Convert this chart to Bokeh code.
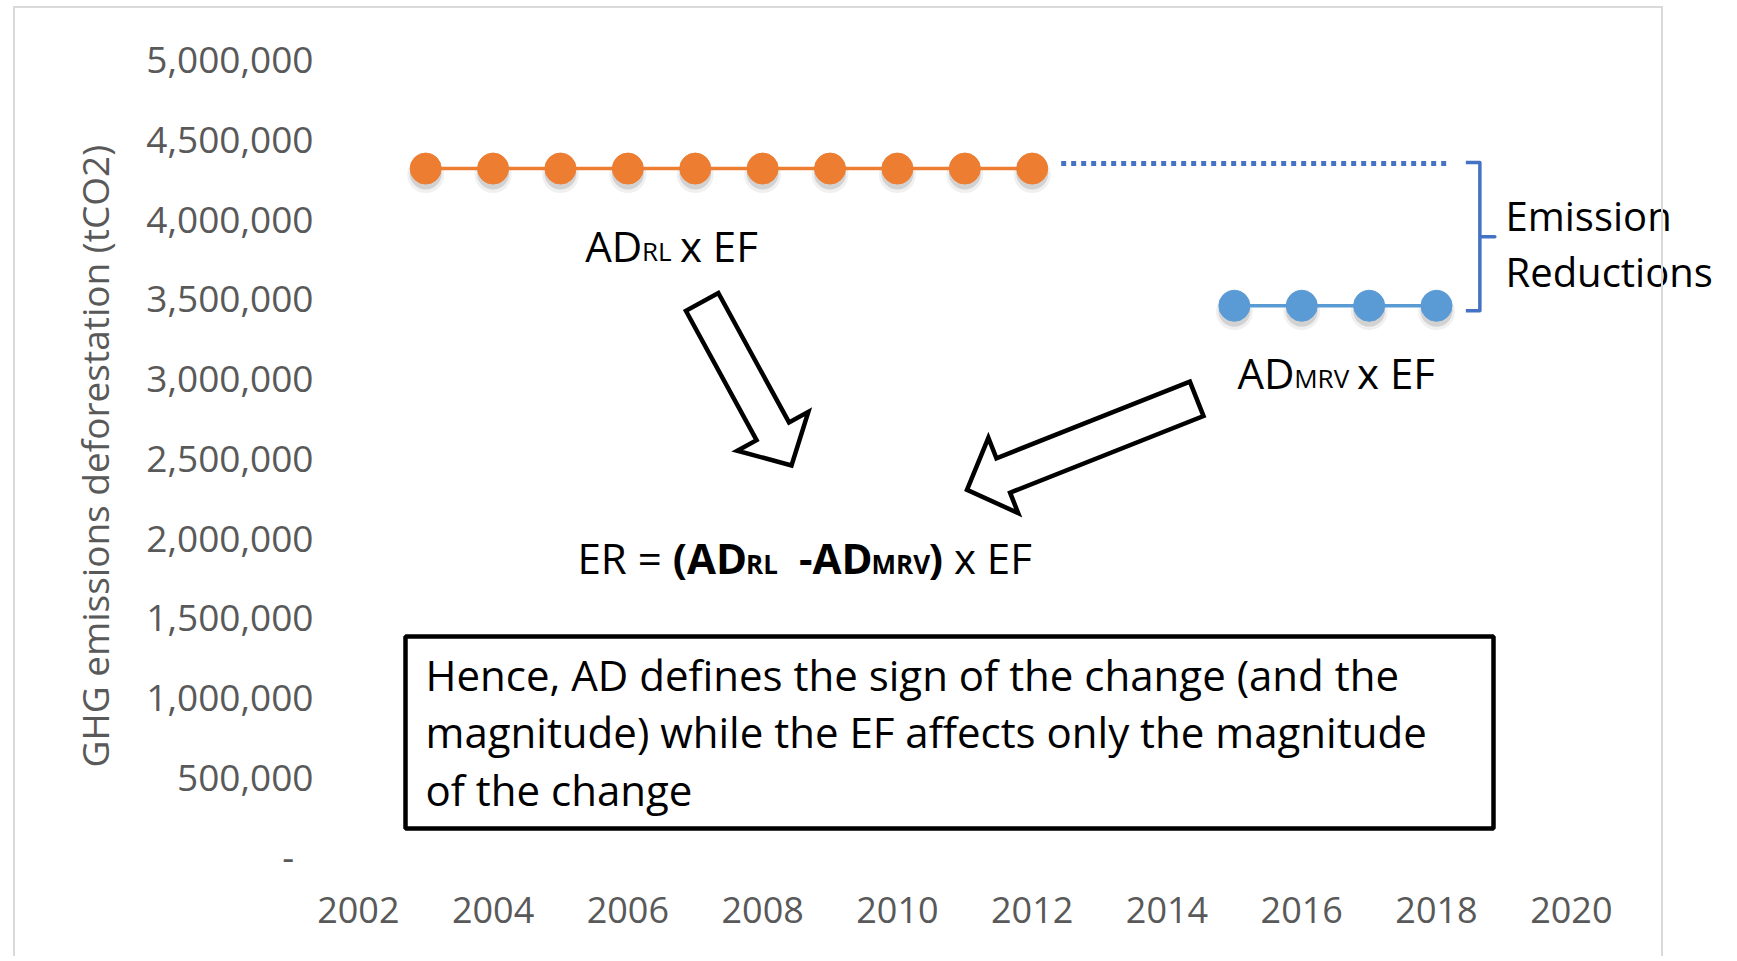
from bokeh.plotting import figure
from bokeh.models import ColumnDataSource, FixedTicker, InlineStyleSheet
from bokeh.core.properties import value
from bokeh.transform import dodge
from bokeh.embed import file_html
from bokeh.resources import INLINE
import math

# ---------------- data ----------------
years_rl = [2003, 2004, 2005, 2006, 2007, 2008, 2009, 2010, 2011, 2012]
emis_rl = [4310000, 4310000, 4310000, 4310000, 4310000,
           4310000, 4310000, 4310000, 4310000, 4310000]
years_mrv = [2015, 2016, 2017, 2018]
emis_mrv = [3450000, 3450000, 3450000, 3450000]

x_ticks = [2002, 2004, 2006, 2008, 2010, 2012, 2014, 2016, 2018, 2020]
y_ticks = [0, 500000, 1000000, 1500000, 2000000, 2500000,
           3000000, 3500000, 4000000, 4500000, 5000000]
y_tick_labels = ["-\u00a0\u00a0", "500,000", "1,000,000", "1,500,000", "2,000,000",
                 "2,500,000", "3,000,000", "3,500,000", "4,000,000",
                 "4,500,000", "5,000,000"]
y_axis_title = "GHG emissions deforestation (tCO2)"
box_lines = ["Hence, AD defines the sign of the change (and the",
             "magnitude) while the EF affects only the magnitude",
             "of the change"]

# ---------------- layout helpers (page pixels -> data) ----------------
PX0, PXY = 357.8, 67.39      # page x of 2002, px per year
PY0, PYM = 855.5, 159.5      # page y of 0, px per 1,000,000
W, H = 1730, 958
FRAME_L, FRAME_B = 328, 873


def X(px):
    return 2002 + (px - PX0) / PXY


def Y(py):
    return (PY0 - py) / PYM * 1e6


def DY(dpx):
    return dpx / PYM * 1e6


def YB(baseline, size):
    # text glyph anchor for a desired baseline (page px)
    return Y(baseline - 0.388 * size)


FONT = value("Open Sans")
ORANGE = "#ED7D31"
BLUE = "#5B9BD5"
DARKBLUE = "#4472C4"
GRAY = "#595959"

p = figure(width=W, height=H, output_backend="svg", toolbar_location=None,
           x_range=(X(FRAME_L), X(W)), y_range=(Y(FRAME_B), Y(0)),
           min_border_left=FRAME_L, min_border_right=0, min_border_top=0,
           min_border_bottom=H - FRAME_B)
p.outline_line_color = None
p.grid.visible = False

# chart-area border (light grey frame of the chart object)
p.stylesheets = [InlineStyleSheet(css=(
    ":host::after{content:'';position:absolute;left:13px;top:6px;"
    "width:1650px;height:950px;border:2.5px solid #D9D9D9;border-bottom:none;"
    "box-sizing:border-box;pointer-events:none;}"))]

# axes
p.xaxis.ticker = FixedTicker(ticks=x_ticks)
p.yaxis.ticker = FixedTicker(ticks=y_ticks)
p.yaxis.major_label_overrides = {t: l for t, l in zip(y_ticks, y_tick_labels)}
for ax in (p.xaxis[0], p.yaxis[0]):
    ax.axis_line_color = None
    ax.major_tick_line_color = None
    ax.minor_tick_line_color = None
    ax.major_label_text_font = "Open Sans"
    ax.major_label_text_color = GRAY
p.xaxis.major_label_text_font_size = "36px"
p.yaxis.major_label_text_font_size = "37px"
p.yaxis.major_label_standoff = 9
p.xaxis.major_label_standoff = 17
p.yaxis.axis_label = y_axis_title + "\u00a0" * 4
p.yaxis.axis_label_text_font = "Open Sans"
p.yaxis.axis_label_text_font_size = "37px"
p.yaxis.axis_label_text_font_style = "normal"
p.yaxis.axis_label_text_color = GRAY
p.yaxis.axis_label_standoff = 23

# ---------------- series ----------------
src_rl = ColumnDataSource(dict(x=years_rl, y=emis_rl))
src_mrv = ColumnDataSource(dict(x=years_mrv, y=emis_mrv))

for src, col in ((src_rl, ORANGE), (src_mrv, BLUE)):
    p.scatter(x="x", y=dodge("y", -DY(6), range=p.y_range), source=src, size=37,
              fill_color="black", fill_alpha=0.06, line_color=None)
    p.scatter(x="x", y=dodge("y", -DY(5), range=p.y_range), source=src, size=32,
              fill_color="black", fill_alpha=0.12, line_color=None)
    p.line(x="x", y="y", source=src, line_color=col, line_width=3.5)
    p.scatter(x="x", y="y", source=src, size=31, fill_color=col,
              line_color=col, line_width=1)

# dotted continuation of reference level
p.line(x=[years_rl[-1] + 0.43, years_mrv[-1] + 0.15],
       y=[emis_rl[-1] + DY(5)] * 2, line_color=DARKBLUE, line_width=5,
       line_dash="5 5")

# bracket "Emission Reductions"
b_top = emis_rl[-1] + DY(6)
b_bot = emis_mrv[-1] - DY(5)
b_mid = (b_top + b_bot) / 2
xv = years_mrv[-1] + 0.643
xt = years_mrv[-1] + 0.435
xn = years_mrv[-1] + 0.865
p.line(x=[xt, xv, xv, xn, xv, xv, xt],
       y=[b_top, b_top, b_mid, b_mid, b_mid, b_bot, b_bot],
       line_color=DARKBLUE, line_width=3.5, line_join="round")

# ---------------- block arrows ----------------


def arrow(tail, tip, shaft_w=37, head_w=81, head_len=39):
    (x0, y0), (x1, y1) = tail, tip
    L = math.hypot(x1 - x0, y1 - y0)
    ux, uy = (x1 - x0) / L, (y1 - y0) / L
    nx, ny = -uy, ux
    hx, hy = x1 - ux * head_len, y1 - uy * head_len
    pts = [
        (x0 + nx * shaft_w / 2, y0 + ny * shaft_w / 2),
        (hx + nx * shaft_w / 2, hy + ny * shaft_w / 2),
        (hx + nx * head_w / 2, hy + ny * head_w / 2),
        (x1, y1),
        (hx - nx * head_w / 2, hy - ny * head_w / 2),
        (hx - nx * shaft_w / 2, hy - ny * shaft_w / 2),
        (x0 - nx * shaft_w / 2, y0 - ny * shaft_w / 2),
    ]
    return [X(a) for a, b in pts], [Y(b) for a, b in pts]


ax1 = arrow((701.6, 301.4), (791.0, 465.0))
ax2 = arrow((1196.2, 398.4), (966.5, 489.3))
p.patches(xs=[ax1[0], ax2[0]], ys=[ax1[1], ax2[1]], fill_color="white",
          line_color="black", line_width=4.5, line_join="miter")

# ---------------- text box ----------------
p.quad(left=[X(405)], right=[X(1493)], top=[Y(636)], bottom=[Y(828)],
       fill_color="white", line_color="black", line_width=4.5)
p.text(x=[X(425)] * 3, y=[YB(690, 42), YB(747.5, 42), YB(805, 42)],
       text=box_lines, text_font=FONT, text_font_size="42px",
       text_color="black", text_baseline="alphabetic", text_align="left")

# ---------------- composite labels ----------------
WR = {" ": .26, "A": .633, "D": .717, "E": .556, "F": .516, "R": .621,
      "x": .519, "=": .572, "M": .903, "V": .583, "L": .532}
WB = {" ": .26, "A": .677, "D": .728, "L": .542, "M": .914, "R": .655,
      "V": .635, "(": .339, ")": .339, "-": .322}


def runs(x0, base, parts):
    cur = x0
    for txt, size, bold, gap in parts:
        cur += gap
        p.text(x=[X(cur)], y=[YB(base, size)], text=[txt], text_font=FONT,
               text_font_size=f"{size}px",
               text_font_style="bold" if bold else "normal",
               text_color="black", text_baseline="alphabetic",
               text_align="left")
        tbl = WB if bold else WR
        cur += sum(tbl.get(c, .55) for c in txt) * size


runs(584.8, 261, [("AD", 42, False, 0), ("RL", 26, False, 0),
                  ("x EF", 42, False, 8)])
runs(1237, 388, [("AD", 42, False, 0), ("MRV", 26, False, 0),
                 ("x EF", 42, False, 8)])
runs(577, 573.5, [("ER =", 42, False, 0), ("(", 42, True, 10.9),
                  ("AD", 42, True, 0), ("RL", 26, True, 0),
                  ("-AD", 42, True, 21.8), ("MRV", 26, True, 0),
                  (")", 42, True, 0), ("x EF", 42, False, 10.9)])

p.text(x=[X(1505)] * 2, y=[YB(230.7, 40), YB(286.8, 40)],
       text=["Emission", "Reductions"],
       text_font=FONT, text_font_size="40px", text_color="black",
       text_baseline="alphabetic", text_align="left")

open("out.html", "w").write(file_html(p, INLINE))
